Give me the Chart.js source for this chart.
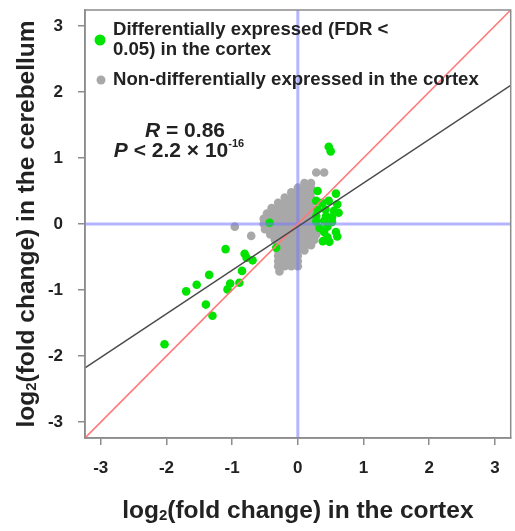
<!DOCTYPE html>
<html>
<head>
<meta charset="utf-8">
<script src="https://cdn.jsdelivr.net/npm/chart.js@4/dist/chart.umd.min.js"></script>
<style>
html,body{margin:0;padding:0;background:#fff;}
canvas{display:block;}
</style>
</head>
<body>
<canvas id="c" width="515" height="531"></canvas>
<script>
// ---- data ----
const axisMin = -3.24, axisMax = 3.24;
const xTicks = [-3, -2, -1, 0, 1, 2, 3];
const yTicks = [-3, -2, -1, 0, 1, 2, 3];

const greenX = [0.47,0.50,0.30,0.58,0.28,0.37,0.60,0.47,0.30,0.42,0.55,0.62,0.28,0.43,0.52,0.28,0.40,0.52,0.33,0.45,0.40,0.58,0.45,0.60,0.38,0.48,-0.43,-0.33,-0.81,-0.78,-0.69,-1.10,-0.85,-1.35,-1.54,-1.70,-1.03,-1.07,-0.89,-1.40,-1.30,-2.03];
const greenY = [1.17,1.10,0.50,0.46,0.35,0.32,0.30,0.35,0.22,0.22,0.20,0.17,0.12,0.12,0.10,0.04,0.05,0.03,-0.06,-0.04,-0.12,-0.12,-0.20,-0.19,-0.26,-0.27,0.02,-0.36,-0.45,-0.51,-0.55,-0.38,-0.71,-0.77,-0.92,-1.02,-0.90,-0.99,-0.89,-1.22,-1.39,-1.82];

const grayX = [
  0.10,0.20,
  0.00,0.10,0.20,
  -0.10,0.00,0.10,0.20,
  -0.20,-0.10,0.00,0.10,0.20,
  -0.30,-0.20,-0.10,0.00,0.10,0.20,
  -0.40,-0.30,-0.20,-0.10,0.00,0.10,0.20,
  -0.47,-0.37,-0.27,-0.17,-0.07,0.03,0.13,0.23,
  -0.52,-0.42,-0.32,-0.22,-0.12,-0.02,0.08,0.18,0.25,
  -0.52,-0.42,-0.32,-0.22,-0.12,-0.02,0.08,0.18,0.28,
  -0.50,-0.40,-0.30,-0.20,-0.10,0.00,0.10,0.20,0.30,
  -0.42,-0.32,-0.22,-0.12,-0.02,0.08,0.18,0.28,
  -0.35,-0.25,-0.15,-0.05,0.05,0.15,0.25,
  -0.30,-0.20,-0.10,0.00,0.10,0.20,
  -0.30,-0.20,-0.10,0.00,0.10,
  -0.30,-0.20,-0.10,0.00,
  -0.30,-0.20,-0.10,0.00,
  -0.30,-0.20,-0.10,0.00,
  -0.28,
  0.28,0.40,-0.71,-0.96
];
const grayY = [
  0.62,0.62,
  0.55,0.55,0.55,
  0.48,0.48,0.48,0.48,
  0.40,0.40,0.40,0.40,0.40,
  0.32,0.32,0.32,0.32,0.32,0.32,
  0.24,0.24,0.24,0.24,0.24,0.24,0.24,
  0.16,0.16,0.16,0.16,0.16,0.16,0.16,0.16,
  0.08,0.08,0.08,0.08,0.08,0.08,0.08,0.08,0.08,
  0.00,0.00,0.00,0.00,0.00,0.00,0.00,0.00,0.00,
  -0.08,-0.08,-0.08,-0.08,-0.08,-0.08,-0.08,-0.08,-0.08,
  -0.16,-0.16,-0.16,-0.16,-0.16,-0.16,-0.16,-0.16,
  -0.24,-0.24,-0.24,-0.24,-0.24,-0.24,-0.24,
  -0.32,-0.32,-0.32,-0.32,-0.32,-0.32,
  -0.40,-0.40,-0.40,-0.40,-0.40,
  -0.48,-0.48,-0.48,-0.48,
  -0.56,-0.56,-0.56,-0.56,
  -0.64,-0.64,-0.64,-0.64,
  -0.72,
  0.78,0.78,-0.18,-0.04
];

// fitted line: y = slope * x + intercept
const fitSlope = 0.66;
const fitIntercept = -0.04;

const legendLabels = ["Differentially expressed (FDR <", "0.05) in the cortex", "Non-differentially expressed in the cortex"];
const xTitle = ["log", "2", "(fold change) in the cortex"];
const yTitle = ["log", "2", "(fold change) in the cerebellum"];

// ---- build ----
const GREEN = '#00e400';
const GRAY = '#a8a8a8';
const toPts = (xs, ys) => xs.map((x, i) => ({x: x, y: ys[i]}));

const FONT = '"Liberation Sans", Arial, sans-serif';

function drawMixed(ctx, x, y, parts) {
  let cx = x;
  for (const p of parts) {
    ctx.font = p[1];
    ctx.fillText(p[0], cx, y + (p[2] || 0));
    cx += ctx.measureText(p[0]).width;
  }
  return cx - x;
}
function measureMixed(ctx, parts) {
  let w = 0;
  for (const p of parts) { ctx.font = p[1]; w += ctx.measureText(p[0]).width; }
  return w;
}

const overlay = {
  id: 'overlay',
  afterDatasetsDraw(chart) {
    const ctx = chart.ctx, a = chart.chartArea;
    ctx.save();
    ctx.strokeStyle = '#8c8c8c';
    ctx.lineWidth = 1.5;
    ctx.strokeRect(a.left, a.top, a.right - a.left, a.bottom - a.top);

    ctx.textBaseline = 'middle';
    ctx.textAlign = 'left';
    // legend
    ctx.beginPath(); ctx.fillStyle = GREEN; ctx.arc(100, 40, 5.5, 0, Math.PI * 2); ctx.fill();
    ctx.beginPath(); ctx.fillStyle = GRAY; ctx.arc(101, 80, 4.5, 0, Math.PI * 2); ctx.fill();
    ctx.fillStyle = '#222';
    ctx.font = 'bold 18.6px ' + FONT;
    ctx.fillText(legendLabels[0], 113, 30);
    ctx.fillText(legendLabels[1], 113, 50);
    ctx.fillText(legendLabels[2], 113, 80);

    // stats text
    const big = 'bold 21px ' + FONT, bigI = 'italic bold 21px ' + FONT, sup = 'bold 11px ' + FONT;
    const r1 = [['R', bigI], [' = 0.86', big]];
    const r2 = [['P', bigI], [' < 2.2 \u00d7 10', big], ['-16', sup, -7]];
    drawMixed(ctx, 185 - measureMixed(ctx, r1) / 2, 131, r1);
    drawMixed(ctx, 179 - measureMixed(ctx, r2) / 2, 151, r2);

    // axis titles
    const tf = 'bold 24.5px ' + FONT, sf = 'bold 15px ' + FONT;
    const xp = [[xTitle[0], tf], [xTitle[1], sf, 5], [xTitle[2], tf]];
    const xw = measureMixed(ctx, xp);
    drawMixed(ctx, (a.left + a.right) / 2 - xw / 2, 511, xp);
    const yp = [[yTitle[0], tf], [yTitle[1], sf, 5], [yTitle[2], tf]];
    const yw = measureMixed(ctx, yp);
    ctx.translate(27, (a.top + a.bottom) / 2);
    ctx.rotate(-Math.PI / 2);
    drawMixed(ctx, -yw / 2, 0, yp);
    ctx.restore();
  }
};

const tickFont = {family: FONT, size: 17, weight: 'bold'};

new Chart(document.getElementById('c'), {
  type: 'scatter',
  data: {
    datasets: [
      {label: 'fit', type: 'line', data: [{x: axisMin, y: fitSlope * axisMin + fitIntercept}, {x: axisMax, y: fitSlope * axisMax + fitIntercept}],
       borderColor: '#4a4a4a', borderWidth: 1.5, pointRadius: 0, fill: false, order: 1},
      {label: 'identity', type: 'line', data: [{x: axisMin, y: axisMin}, {x: axisMax, y: axisMax}],
       borderColor: '#ff7a7a', borderWidth: 1.6, pointRadius: 0, fill: false, order: 2},
      {label: 'h0', type: 'line', data: [{x: axisMin, y: 0}, {x: axisMax, y: 0}],
       borderColor: 'rgba(120,120,255,0.55)', borderWidth: 3, pointRadius: 0, fill: false, order: 3},
      {label: 'v0', type: 'line', data: [{x: 0, y: axisMin}, {x: 0, y: axisMax}],
       borderColor: 'rgba(120,120,255,0.55)', borderWidth: 3, pointRadius: 0, fill: false, order: 3},
      {label: legendLabels[0] + ' ' + legendLabels[1], data: toPts(greenX, greenY), backgroundColor: GREEN, borderWidth: 0, pointRadius: 4.3, order: 4},
      {label: legendLabels[2], data: toPts(grayX, grayY), backgroundColor: GRAY, borderWidth: 0, pointRadius: 4.3, order: 5}
    ]
  },
  options: {
    responsive: false,
    animation: false,
    events: [],
    layout: {padding: {top: 10, right: 3, left: 0, bottom: 0}},
    plugins: {legend: {display: false}, tooltip: {enabled: false}},
    scales: {
      x: {
        type: 'linear', min: axisMin, max: axisMax,
        afterBuildTicks: s => { s.ticks = xTicks.map(v => ({value: v})); },
        afterFit: s => { s.height = 93; s.paddingLeft = 0; s.paddingRight = 0; },
        ticks: {font: tickFont, color: '#222', padding: 13, maxRotation: 0, autoSkip: false},
        grid: {drawOnChartArea: false, drawTicks: true, tickLength: 7, color: '#8c8c8c', lineWidth: 1.5},
        border: {display: true, color: '#8c8c8c', width: 1.5}
      },
      y: {
        type: 'linear', min: axisMin, max: axisMax,
        afterBuildTicks: s => { s.ticks = yTicks.map(v => ({value: v})); },
        afterFit: s => { s.width = 85; s.paddingTop = 0; s.paddingBottom = 0; },
        ticks: {font: tickFont, color: '#222', padding: 15, autoSkip: false},
        grid: {drawOnChartArea: false, drawTicks: true, tickLength: 7, color: '#8c8c8c', lineWidth: 1.5},
        border: {display: true, color: '#8c8c8c', width: 1.5}
      }
    }
  },
  plugins: [overlay]
});
</script>
</body>
</html>
